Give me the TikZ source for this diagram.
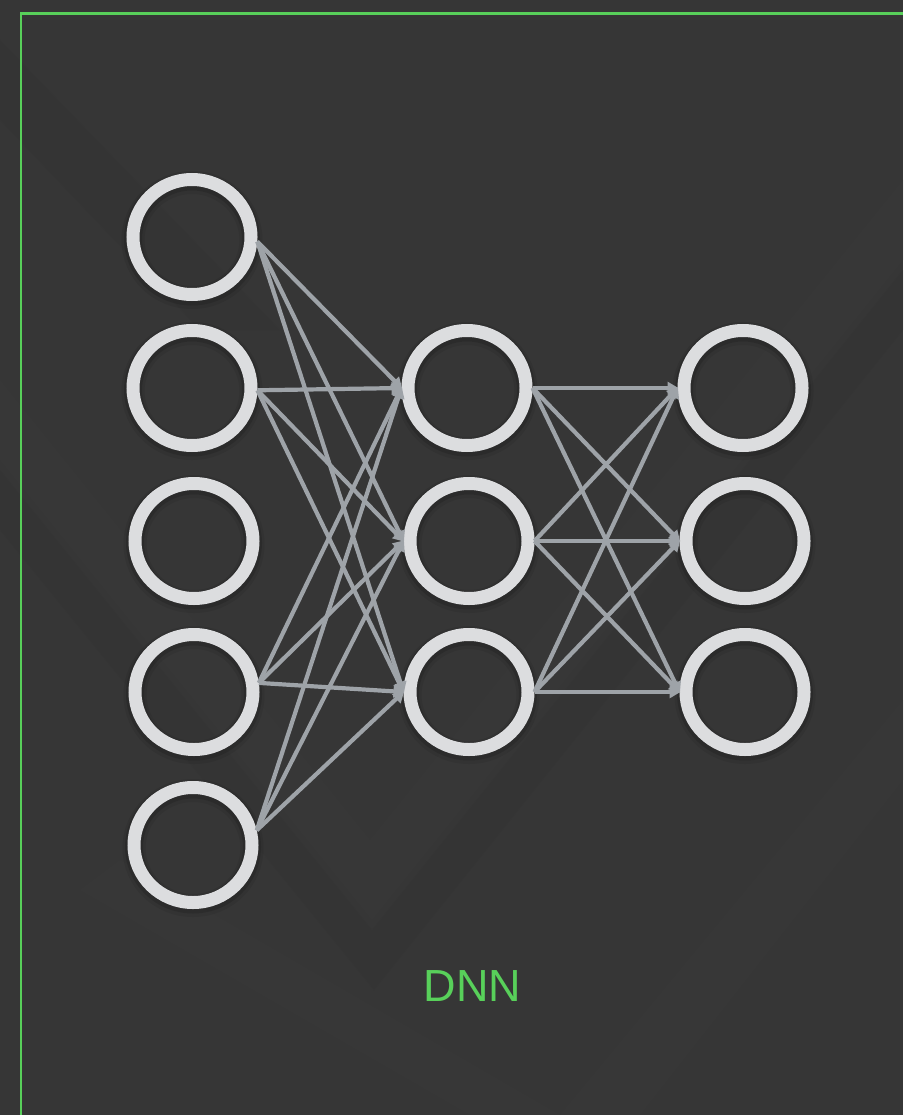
\documentclass[tikz,border=0pt]{standalone}
\usepackage{fontspec}
\setmainfont{Liberation Sans}
\usetikzlibrary{arrows.meta,shapes.geometric}

\definecolor{bg}{HTML}{363636}
\definecolor{bandlight}{HTML}{3A3A3A}
\definecolor{banddark}{HTML}{323232}
\definecolor{framegreen}{HTML}{58D05A}
\definecolor{ring}{HTML}{DCDDDF}
\definecolor{wire}{HTML}{9EA3A8}

\tikzset{
  neuron/.style={ellipse, draw=ring, line width=13pt, minimum width=118pt,
    minimum height=115pt, inner sep=0pt},
  ringshadow/.style={ellipse, draw=black, inner sep=0pt, minimum width=118pt,
    minimum height=115pt},
  link/.style={draw=wire, line width=4.2pt,
    -{Triangle[length=11pt,width=12pt]}, shorten >=-1pt},
  label/.style={text=framegreen, font=\fontsize{45}{50}\selectfont,
    inner sep=0pt}
}

\begin{document}
\begin{tikzpicture}[x=1pt,y=-1pt]
  % canvas
  \useasboundingbox (0,0) rectangle (903,1115);
  \fill[bg] (0,0) rectangle (903,1115);

  % faint chevron bands in the backdrop
  \begin{scope}[opacity=0.3]
  \fill[bandlight] (0,380) -- (370,840) -- (903,180) -- (903,260)
    -- (372,920) -- (0,460) -- cycle;
  \fill[banddark] (0,470) -- (372,930) -- (903,270) -- (903,330)
    -- (374,990) -- (0,530) -- cycle;
  \fill[bandlight] (120,860) -- (560,1115) -- (470,1115)
    -- (80,890) -- cycle;
  \fill[bandlight] (560,1115) -- (903,700) -- (903,780)
    -- (640,1115) -- cycle;
  \fill[banddark] (0,40) -- (280,330) -- (200,330) -- (0,120) -- cycle;
  \end{scope}

  % frame
  \draw[framegreen, line width=2.2pt] (21,1115) -- (21,13.6) -- (903,13.6);

  % soft shadows under the rings
  \foreach \x/\y in {192/237,192/388,194/541,194/692,193/845,
                     467/388,469/541,469/692,
                     743/388,745/541,745/692}{
    \node[ringshadow, line width=23pt, opacity=0.07] at (\x,\y+3) {};
    \node[ringshadow, line width=18pt, opacity=0.12] at (\x,\y+2) {};
  }

  % input layer
  \node[neuron] (c1) at (192,237) {};
  \node[neuron] (c2) at (192,388) {};
  \node[neuron] (c3) at (194,541) {};
  \node[neuron] (c4) at (194,692) {};
  \node[neuron] (c5) at (193,845) {};

  % hidden layer
  \node[neuron] (m1) at (467,388) {};
  \node[neuron] (m2) at (469,541) {};
  \node[neuron] (m3) at (469,692) {};

  % output layer
  \node[neuron] (r1) at (743,388) {};
  \node[neuron] (r2) at (745,541) {};
  \node[neuron] (r3) at (745,692) {};

  % input -> hidden
  \foreach \s/\a in {c1/-4,c2/-2,c4/8,c5/13}{
    \foreach \t in {m1,m2,m3}{
      \draw[link] (\s.\a) -- (\t.west);
    }
  }

  % hidden -> output
  \foreach \s in {m1,m2,m3}{
    \foreach \t in {r1,r2,r3}{
      \draw[link] (\s.east) -- (\t.west);
    }
  }

  % caption
  \node[label] (cap) at (472.5,986) {DNN};
\end{tikzpicture}
\end{document}
